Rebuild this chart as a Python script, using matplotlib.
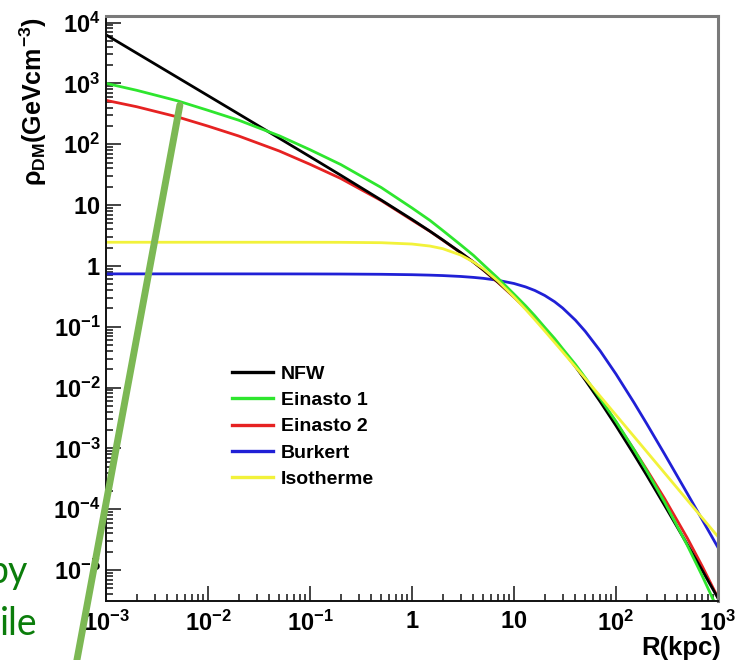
import matplotlib
matplotlib.use('Agg')
import matplotlib.pyplot as plt
import matplotlib.ticker as ticker

# radius grid (kpc) and densities (GeV/cm3)
R_KPC = [1e-3, 2e-3, 5e-3, 1e-2, 2e-2, 5e-2, 0.1, 0.2, 0.5, 1, 1.5, 2, 3, 4,
         5, 7, 10, 13, 16, 20, 25, 30, 40, 50, 70, 100, 150, 200, 300, 500,
         700, 1000]
NFW = [6300, 3149.5, 1259.5, 629.5, 314.5, 125.5, 62.5, 30.98, 12.09, 5.81,
       3.72, 2.68, 1.66, 1.157, 0.863, 0.539, 0.314, 0.2039, 0.1418, 0.0937,
       0.0605, 0.0415, 0.02215, 0.01325, 5.87e-3, 2.36e-3, 7.99e-4, 3.62e-4,
       1.15e-4, 2.64e-5, 9.9e-6, 3.45e-6]
EINASTO1 = [1003, 770.4, 518.6, 361, 248.5, 137.7, 81.3, 46.46, 19.41, 8.97,
            5.60, 3.83, 2.22, 1.493, 1.05, 0.622, 0.344, 0.2207, 0.1512,
            0.0977, 0.064, 0.0435, 0.02405, 0.0145, 6.64e-3, 2.77e-3, 9.56e-4,
            4.29e-4, 1.30e-4, 2.55e-5, 8.05e-6, 2.21e-6]
EINASTO2 = [527, 413.7, 281.8, 198.5, 136.6, 77.4, 46.8, 27.4, 11.83, 5.66,
            3.70, 2.65, 1.646, 1.159, 0.854, 0.530, 0.307, 0.199, 0.1379,
            0.0901, 0.0597, 0.0406, 0.0227, 0.01385, 6.42e-3, 2.71e-3,
            9.56e-4, 4.49e-4, 1.49e-4, 3.36e-5, 1.16e-5, 3.50e-6]
BURKERT = [0.74, 0.74, 0.7399, 0.7398, 0.7395, 0.7388, 0.7377, 0.7354,
           0.7284, 0.717, 0.7053, 0.694, 0.671, 0.6477, 0.625, 0.579, 0.514,
           0.4517, 0.3947, 0.327, 0.258, 0.203, 0.1283, 0.0839, 0.0401,
           0.01666, 5.67e-3, 2.548e-3, 8.02e-4, 1.816e-4, 6.75e-5, 2.35e-5]
ISOTHERME = [2.45, 2.45, 2.45, 2.45, 2.45, 2.45, 2.448, 2.443, 2.408, 2.29,
             2.12, 1.92, 1.51, 1.162, 0.897, 0.558, 0.309, 0.1929, 0.1308,
             0.0854, 0.0553, 0.0387, 0.0219, 0.01407, 7.2e-3, 3.53e-3,
             1.572e-3, 8.84e-4, 3.93e-4, 1.415e-4, 7.22e-5, 3.54e-5]

LABELS = ['NFW', 'Einasto 1', 'Einasto 2', 'Burkert', 'Isotherme']
COLORS = ['#000000', '#2ee62e', '#e62222', '#2020d6', '#f2f23a']

X_TICKS = [1e-3, 1e-2, 1e-1, 1, 10, 1e2, 1e3]
X_TICKLABELS = ['$10^{-3}$', '$10^{-2}$', '$10^{-1}$', '$1$', '$10$',
                '$10^{2}$', '$10^{3}$']
Y_TICKS = [1e-5, 1e-4, 1e-3, 1e-2, 1e-1, 1, 10, 1e2, 1e3, 1e4]
Y_TICKLABELS = ['$10^{-5}$', '$10^{-4}$', '$10^{-3}$', '$10^{-2}$',
                '$10^{-1}$', '$1$', '$10$', '$10^{2}$', '$10^{3}$', '$10^{4}$']

# ROOT-like bold helvetica look
plt.rcParams['font.family'] = ['Liberation Sans', 'DejaVu Sans']
plt.rcParams['font.weight'] = 'bold'
plt.rcParams['mathtext.fontset'] = 'custom'
plt.rcParams['mathtext.rm'] = 'Liberation Sans:bold'
plt.rcParams['mathtext.it'] = 'Liberation Sans:bold'
plt.rcParams['mathtext.bf'] = 'Liberation Sans:bold'

W, H = 739, 660
fig = plt.figure(figsize=(W / 100, H / 100), dpi=100)
ax = fig.add_axes([106 / W, 1 - 600.5 / H, 612 / W, 584 / H])

series = [NFW, EINASTO1, EINASTO2, BURKERT, ISOTHERME]
lines = {}
# draw order: burkert, einasto 2, nfw, einasto 1, isotherme
for idx in [3, 2, 0, 1, 4]:
    ln, = ax.plot(R_KPC, series[idx], color=COLORS[idx], lw=2.0,
                  label=LABELS[idx], solid_joinstyle='round')
    lines[idx] = ln

ax.set_xscale('log')
ax.set_yscale('log')
ax.set_xlim(1e-3, 1e3)
ax.set_ylim(10 ** -5.5, 10 ** 4.1)

ax.xaxis.set_major_locator(ticker.FixedLocator(X_TICKS))
ax.xaxis.set_major_formatter(ticker.FixedFormatter(X_TICKLABELS))
ax.yaxis.set_major_locator(ticker.FixedLocator(Y_TICKS))
ax.yaxis.set_major_formatter(ticker.FixedFormatter(Y_TICKLABELS))
ax.xaxis.set_minor_locator(ticker.LogLocator(base=10, subs=range(2, 10), numticks=50))
ax.yaxis.set_minor_locator(ticker.LogLocator(base=10, subs=range(2, 10), numticks=50))
ax.xaxis.set_minor_formatter(ticker.NullFormatter())
ax.yaxis.set_minor_formatter(ticker.NullFormatter())

ax.tick_params(which='both', direction='in', top=False, right=False,
               color='#111111', width=1.1)
ax.tick_params(which='major', length=11, labelsize=17)
ax.tick_params(which='minor', length=5)
ax.tick_params(axis='x', which='major', pad=7)
ax.tick_params(axis='y', which='major', pad=4)

for side in ['left', 'bottom']:
    ax.spines[side].set_color('#111111')
    ax.spines[side].set_linewidth(1.4)
for side in ['top', 'right']:
    ax.spines[side].set_color('#7a7a7a')
    ax.spines[side].set_linewidth(2.2)

fig.text(33 / W, 1 - 17 / H, r'$\rho_{DM}(GeVcm^{-3})$', rotation=90,
         ha='center', va='top', fontsize=18)
fig.text(721 / W, 1 - 648 / H, 'R(kpc)', ha='right', va='center', fontsize=18.5)

handles = [lines[i] for i in range(5)]
leg = ax.legend(handles, LABELS, loc='upper left',
                bbox_to_anchor=(232 / W, 1 - 365 / H), bbox_transform=fig.transFigure,
                frameon=False, prop={'family': 'Liberation Sans', 'weight': 'bold', 'size': 14},
                handlelength=2.1, handletextpad=0.4, labelspacing=0.45,
                borderpad=0, borderaxespad=0)
for h in leg.legend_handles:
    h.set_linewidth(2.4)

# slide annotation overlay: pointer line and cropped caption text
ax.annotate('', xy=(5.3e-3, 440), xycoords='data',
            xytext=(76 / W, -5 / H), textcoords='figure fraction',
            arrowprops=dict(arrowstyle='-', lw=5, color='#7cb854',
                            shrinkA=0, shrinkB=0),
            annotation_clip=False, zorder=20)
fig.text(28 / W, 1 - 583 / H, 'by', ha='right', va='baseline', fontsize=27,
         color='#0b7d0b', family='Lato', weight='normal')
fig.text(38 / W, 1 - 635 / H, 'ile', ha='right', va='baseline', fontsize=27,
         color='#0b7d0b', family='Lato', weight='normal')

fig.savefig('out.png', dpi=100)
